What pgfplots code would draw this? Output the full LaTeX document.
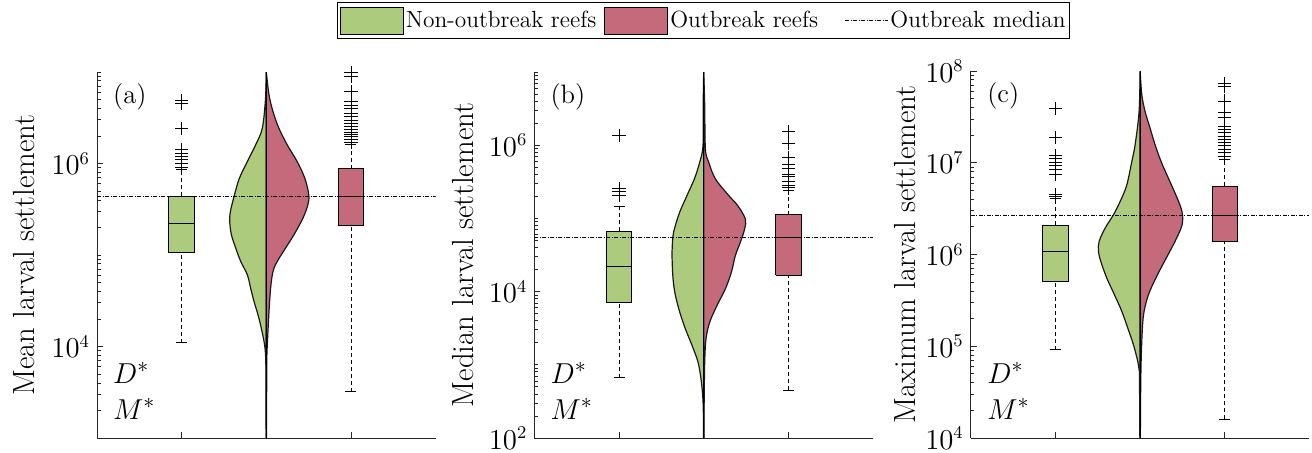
\documentclass[border=0pt]{standalone}
\usepackage{pgfplots}
\pgfplotsset{compat=1.18}
\definecolor{cgreen}{RGB}{172,203,125}
\definecolor{cred}{RGB}{196,106,122}
\tikzset{
  zzboxg/.style={draw=black, fill=cgreen, line width=0.5pt},
  zzboxr/.style={draw=black, fill=cred, line width=0.5pt},
  zzmed/.style={black, line width=0.5pt},
  zzwhisk/.style={black, line width=0.45pt, dash pattern=on 2pt off 1.5pt},
  zzcap/.style={black, line width=0.45pt},
  zzmedline/.style={black, line width=0.4pt, dash pattern=on 2pt off 0.8pt on 0.4pt off 0.8pt},
  zzvio/.style={line width=0.6pt, draw=black!90, smooth, tension=0.55},
}
\newcommand{\zzfs}{\fontsize{15.3}{18}\selectfont}
\newcommand{\zzts}{\fontsize{13.3}{15}\selectfont}
\begin{document}
\begin{tikzpicture}
\useasboundingbox (0,0) rectangle (656pt,226pt);
% ---------------- (a)
\begin{axis}[ymode=log, scale only axis, width=169.3pt, height=183pt,
  at={(48.5pt,7pt)}, anchor=south west,
  axis lines*=left, axis line style={black!85, line width=0.5pt},
  xmin=0, xmax=4, xtick={1,2,3}, xticklabels={},
  major tick length=3pt, minor tick length=1.8pt,
  tick style={black!85, line width=0.4pt},
  tick label style={font=\zzts},
  ymin=1e3, ymax=1e7, ytick={1e4,1e6},
  minor ytick={2e3,3e3,4e3,5e3,6e3,7e3,8e3,9e3,2e4,3e4,4e4,5e4,6e4,7e4,8e4,9e4,1e5,2e5,3e5,4e5,5e5,6e5,7e5,8e5,9e5,2e6,3e6,4e6,5e6,6e6,7e6,8e6,9e6,1e7},
  ylabel={Mean larval settlement},
  ylabel style={font=\zzfs, anchor=base, inner sep=0pt, at={(axis description cs:-0.186,0.5)}}]
\addplot[zzvio, fill=cgreen] coordinates {(2,1e7) (1.99,5.0e6) (1.953,2.43e6) (1.874,1.60e6) (1.776,1.05e6) (1.682,6.90e5) (1.624,4.55e5) (1.576,2.99e5) (1.568,2.32e5) (1.588,1.66e5) (1.639,1.19e5) (1.698,8.49e4) (1.776,6.08e4) (1.815,4.34e4) (1.855,3.10e4) (1.902,2.22e4) (1.941,1.58e4) (1.98,1.04e4) (1.994,6.85e3) (1.996,2.99e3) (2,1e3) (2,1e7)};
\addplot[zzvio, fill=cred] coordinates {(2,1e7) (2.032,5.64e6) (2.079,3.70e6) (2.149,2.43e6) (2.247,1.60e6) (2.365,1.05e6) (2.455,6.90e5) (2.502,4.55e5) (2.491,3.54e5) (2.432,2.52e5) (2.326,1.66e5) (2.227,1.19e5) (2.129,8.49e4) (2.079,6.61e4) (2.051,4.34e4) (2.032,2.42e4) (2.012,1.04e4) (2.006,6.85e3) (2,1e3) (2,1e7)};
\addplot[black, line width=0.5pt] coordinates {(2,1e3) (2,1e7)};
\addplot[zzwhisk] coordinates {(1,1.1e4) (1,1.06e5)};
\addplot[zzwhisk] coordinates {(1,4.39e5) (1,8.6e5)};
\addplot[zzcap] coordinates {(0.935,1.1e4) (1.065,1.1e4)};
\addplot[zzcap] coordinates {(0.935,8.6e5) (1.065,8.6e5)};
\addplot[zzboxg] coordinates {(0.85,1.06e5) (1.15,1.06e5) (1.15,4.39e5) (0.85,4.39e5) (0.85,1.06e5)};
\addplot[zzmed] coordinates {(0.85,2.19e5) (1.15,2.19e5)};
\addplot[only marks, mark=+, mark size=3.3pt, mark options={black, solid, line width=0.45pt}] coordinates {(1,4.92e6) (1,4.49e6) (1,2.39e6) (1,1.42e6) (1,1.29e6) (1,1.20e6) (1,1.11e6) (1,1.0e6) (1,8.97e5)};
\addplot[zzwhisk] coordinates {(3,3.2e3) (3,2.1e5)};
\addplot[zzwhisk] coordinates {(3,8.75e5) (3,1.6e6)};
\addplot[zzcap] coordinates {(2.935,3.2e3) (3.065,3.2e3)};
\addplot[zzcap] coordinates {(2.935,1.6e6) (3.065,1.6e6)};
\addplot[zzboxr] coordinates {(2.85,2.1e5) (3.15,2.1e5) (3.15,8.75e5) (2.85,8.75e5) (2.85,2.1e5)};
\addplot[zzmed] coordinates {(2.85,4.33e5) (3.15,4.33e5)};
\addplot[only marks, mark=+, mark size=3.3pt, mark options={black, solid, line width=0.45pt}] coordinates {(3,9.8e6) (3,9.0e6) (3,6.17e6) (3,4.80e6) (3,4.31e6) (3,3.96e6) (3,3.52e6) (3,3.24e6) (3,2.97e6) (3,2.73e6) (3,2.56e6) (3,2.35e6) (3,2.20e6) (3,2.07e6) (3,1.96e6) (3,1.83e6) (3,1.71e6)};
\addplot[zzmedline] coordinates {(0,4.33e5) (4,4.33e5)};
\node[anchor=west, font=\zzts] at (axis description cs:0.027,0.932) {(a)};
\node[anchor=west, font=\zzfs] at (axis description cs:0.027,0.178) {$D^*$};
\node[anchor=west, font=\zzfs] at (axis description cs:0.027,0.079) {$M^*$};
\end{axis}
% ---------------- (b)
\begin{axis}[ymode=log, scale only axis, width=169.3pt, height=183pt,
  at={(267.2pt,7pt)}, anchor=south west,
  axis lines*=left, axis line style={black!85, line width=0.5pt},
  xmin=0, xmax=4, xtick={1,2,3}, xticklabels={},
  major tick length=3pt, minor tick length=1.8pt,
  tick style={black!85, line width=0.4pt},
  tick label style={font=\zzts},
  ymin=1e2, ymax=1e7, ytick={1e2,1e4,1e6},
  minor ytick={2e2,3e2,4e2,5e2,6e2,7e2,8e2,9e2,1e3,2e3,3e3,4e3,5e3,6e3,7e3,8e3,9e3,2e4,3e4,4e4,5e4,6e4,7e4,8e4,9e4,1e5,2e5,3e5,4e5,5e5,6e5,7e5,8e5,9e5,2e6,3e6,4e6,5e6,6e6,7e6,8e6,9e6,1e7},
  ylabel={Median larval settlement},
  ylabel style={font=\zzfs, anchor=base, inner sep=0pt, at={(axis description cs:-0.181,0.5)}},
  legend columns=3,
  legend style={at={(axis description cs:0.5,1)}, anchor=south, yshift=16.5pt,
    draw=black, line width=0.5pt, inner xsep=1pt, inner ysep=2pt,
    font=\fontsize{11.7}{14}\selectfont,
    nodes={inner sep=1pt},
    /tikz/every even column/.append style={column sep=3pt}}]
\addlegendimage{legend image code/.code={\draw[fill=cgreen, draw=black, line width=0.5pt] (0pt,-6.75pt) rectangle (31.5pt,6.75pt);}}
\addlegendentry{Non-outbreak reefs}
\addlegendimage{legend image code/.code={\draw[fill=cred, draw=black, line width=0.5pt] (0pt,-6.75pt) rectangle (31.5pt,6.75pt);}}
\addlegendentry{Outbreak reefs}
\addlegendimage{legend image code/.code={\path[draw=none, fill=none] (0pt,-6.75pt) rectangle (31pt,6.75pt); \draw[zzmedline] (9.5pt,0pt) -- (31pt,0pt);}}
\addlegendentry{Outbreak median}
\addplot[zzvio, fill=cgreen] coordinates {(2,1e7) (1.994,3.48e6) (1.992,9.91e5) (1.953,5.86e5) (1.89,3.47e5) (1.803,2.06e5) (1.717,1.22e5) (1.654,7.19e4) (1.634,5.25e4) (1.626,3.11e4) (1.638,1.49e4) (1.666,8.85e3) (1.717,5.24e3) (1.784,3.09e3) (1.862,1.84e3) (1.933,1.09e3) (1.968,641) (1.988,381) (1.996,225) (2,100) (2,1e7)};
\addplot[zzvio, fill=cred] coordinates {(2,1e7) (2.012,3.48e6) (2.02,8.89e5) (2.059,5.86e5) (2.138,3.47e5) (2.295,2.06e5) (2.401,1.50e5) (2.492,9.84e4) (2.484,7.19e4) (2.433,4.73e4) (2.374,3.11e4) (2.327,1.84e4) (2.256,1.09e4) (2.157,6.46e3) (2.071,3.82e3) (2.027,2.26e3) (2.012,1.09e3) (2.006,381) (2,100) (2,1e7)};
\addplot[black, line width=0.5pt] coordinates {(2,1e2) (2,1e7)};
\addplot[zzwhisk] coordinates {(1,663) (1,7.1e3)};
\addplot[zzwhisk] coordinates {(1,6.68e4) (1,1.44e5)};
\addplot[zzcap] coordinates {(0.935,663) (1.065,663)};
\addplot[zzcap] coordinates {(0.935,1.44e5) (1.065,1.44e5)};
\addplot[zzboxg] coordinates {(0.85,7.1e3) (1.15,7.1e3) (1.15,6.68e4) (0.85,6.68e4) (0.85,7.1e3)};
\addplot[zzmed] coordinates {(0.85,2.22e4) (1.15,2.22e4)};
\addplot[only marks, mark=+, mark size=3.3pt, mark options={black, solid, line width=0.45pt}] coordinates {(1,1.37e6) (1,2.56e5) (1,2.3e5) (1,2.08e5)};
\addplot[zzwhisk] coordinates {(3,450) (3,1.67e4)};
\addplot[zzwhisk] coordinates {(3,1.13e5) (3,2.43e5)};
\addplot[zzcap] coordinates {(2.935,450) (3.065,450)};
\addplot[zzcap] coordinates {(2.935,2.43e5) (3.065,2.43e5)};
\addplot[zzboxr] coordinates {(2.85,1.67e4) (3.15,1.67e4) (3.15,1.13e5) (2.85,1.13e5) (2.85,1.67e4)};
\addplot[zzmed] coordinates {(2.85,5.48e4) (3.15,5.48e4)};
\addplot[only marks, mark=+, mark size=3.3pt, mark options={black, solid, line width=0.45pt}] coordinates {(3,1.52e6) (3,1.05e6) (3,6.71e5) (3,5.45e5) (3,4.81e5) (3,3.98e5) (3,3.69e5) (3,3.15e5) (3,2.78e5) (3,2.61e5)};
\addplot[zzmedline] coordinates {(0,5.48e4) (4,5.48e4)};
\node[anchor=west, font=\zzts] at (axis description cs:0.027,0.932) {(b)};
\node[anchor=west, font=\zzfs] at (axis description cs:0.027,0.178) {$D^*$};
\node[anchor=west, font=\zzfs] at (axis description cs:0.027,0.079) {$M^*$};
\end{axis}
% ---------------- (c)
\begin{axis}[ymode=log, scale only axis, width=169.3pt, height=183.5pt,
  at={(485.4pt,7pt)}, anchor=south west,
  axis lines*=left, axis line style={black!85, line width=0.5pt},
  xmin=0, xmax=4, xtick={1,2,3}, xticklabels={},
  major tick length=3pt, minor tick length=1.8pt,
  tick style={black!85, line width=0.4pt},
  tick label style={font=\zzts},
  ymin=1e4, ymax=1e8, ytick={1e4,1e5,1e6,1e7,1e8},
  minor ytick={2e4,3e4,4e4,5e4,6e4,7e4,8e4,9e4,2e5,3e5,4e5,5e5,6e5,7e5,8e5,9e5,2e6,3e6,4e6,5e6,6e6,7e6,8e6,9e6,2e7,3e7,4e7,5e7,6e7,7e7,8e7,9e7},
  ylabel={Maximum larval settlement},
  ylabel style={font=\zzfs, anchor=base, inner sep=0pt, at={(axis description cs:-0.164,0.5)}}]
\addplot[zzvio, fill=cgreen] coordinates {(2,1e8) (1.988,3.62e7) (1.941,1.57e7) (1.902,1.03e7) (1.862,6.79e6) (1.831,5.28e6) (1.764,3.78e6) (1.685,2.71e6) (1.587,1.94e6) (1.516,1.39e6) (1.508,1.08e6) (1.536,8.39e5) (1.607,5.52e5) (1.697,3.64e5) (1.784,2.40e5) (1.855,1.57e5) (1.921,1.04e5) (1.973,6.81e4) (1.992,5.30e4) (1.994,2.95e4) (2,1e4) (2,1e8)};
\addplot[zzvio, fill=cred] coordinates {(2,1e8) (2.02,5.52e7) (2.059,3.62e7) (2.118,2.38e7) (2.177,1.57e7) (2.248,1.03e7) (2.334,6.79e6) (2.421,4.48e6) (2.484,3.20e6) (2.504,2.49e6) (2.484,1.94e6) (2.393,1.28e6) (2.287,8.39e5) (2.185,5.52e5) (2.098,3.64e5) (2.047,2.40e5) (2.027,1.57e5) (2.012,6.81e4) (2.006,2.95e4) (2,1e4) (2,1e8)};
\addplot[black, line width=0.5pt] coordinates {(2,1e4) (2,1e8)};
\addplot[zzwhisk] coordinates {(1,9.2e4) (1,5.04e5)};
\addplot[zzwhisk] coordinates {(1,2.09e6) (1,4.1e6)};
\addplot[zzcap] coordinates {(0.935,9.2e4) (1.065,9.2e4)};
\addplot[zzcap] coordinates {(0.935,4.1e6) (1.065,4.1e6)};
\addplot[zzboxg] coordinates {(0.85,5.04e5) (1.15,5.04e5) (1.15,2.09e6) (0.85,2.09e6) (0.85,5.04e5)};
\addplot[zzmed] coordinates {(0.85,1.09e6) (1.15,1.09e6)};
\addplot[only marks, mark=+, mark size=3.3pt, mark options={black, solid, line width=0.45pt}] coordinates {(1,3.91e7) (1,1.87e7) (1,1.20e7) (1,1.11e7) (1,1.02e7) (1,9.35e6) (1,8.46e6) (1,7.45e6) (1,4.51e6) (1,4.32e6)};
\addplot[zzwhisk] coordinates {(3,1.6e4) (3,1.37e6)};
\addplot[zzwhisk] coordinates {(3,5.56e6) (3,1.1e7)};
\addplot[zzcap] coordinates {(2.935,1.6e4) (3.065,1.6e4)};
\addplot[zzcap] coordinates {(2.935,1.1e7) (3.065,1.1e7)};
\addplot[zzboxr] coordinates {(2.85,1.37e6) (3.15,1.37e6) (3.15,5.56e6) (2.85,5.56e6) (2.85,1.37e6)};
\addplot[zzmed] coordinates {(2.85,2.68e6) (3.15,2.68e6)};
\addplot[only marks, mark=+, mark size=3.3pt, mark options={black, solid, line width=0.45pt}] coordinates {(3,7.33e7) (3,6.74e7) (3,4.70e7) (3,3.51e7) (3,3.10e7) (3,2.51e7) (3,2.31e7) (3,2.12e7) (3,1.95e7) (3,1.80e7) (3,1.68e7) (3,1.55e7) (3,1.40e7) (3,1.28e7) (3,1.16e7)};
\addplot[zzmedline] coordinates {(0,2.68e6) (4,2.68e6)};
\node[anchor=west, font=\zzts] at (axis description cs:0.028,0.932) {(c)};
\node[anchor=west, font=\zzfs] at (axis description cs:0.028,0.178) {$D^*$};
\node[anchor=west, font=\zzfs] at (axis description cs:0.028,0.079) {$M^*$};
\end{axis}
\end{tikzpicture}
\end{document}
